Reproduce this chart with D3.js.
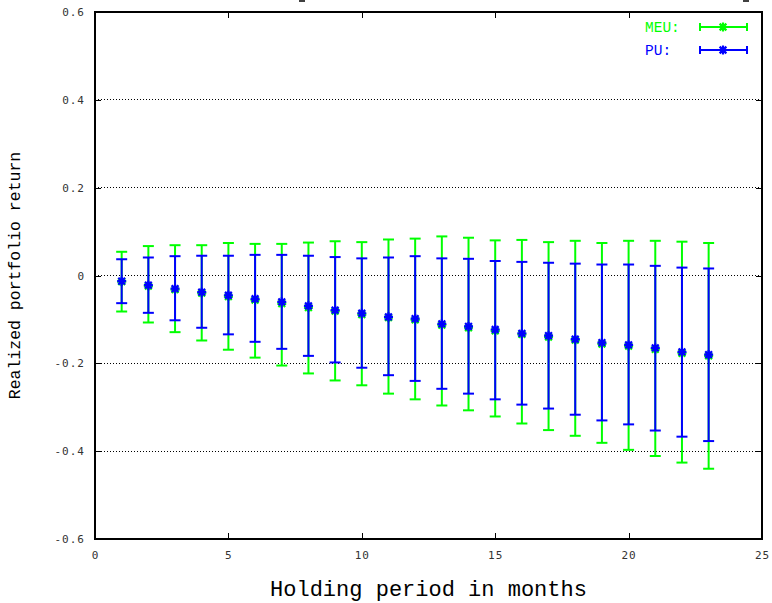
<!DOCTYPE html>
<html>
<head>
<meta charset="utf-8">
<script src="https://cdn.jsdelivr.net/npm/d3@7"></script>
<style>
  html, body { margin: 0; padding: 0; background: #fff; }
  svg { display: block; }
</style>
</head>
<body>
<div id="chart"></div>
<script>
// values
const months = [1, 2, 3, 4, 5, 6, 7, 8, 9, 10, 11, 12, 13, 14, 15, 16, 17, 18, 19, 20, 21, 22, 23]

const meuMean = [-0.014, -0.024, -0.032, -0.040, -0.048, -0.056, -0.064, -0.073, -0.081, -0.089, -0.096, -0.101,
  -0.113, -0.119, -0.126, -0.134, -0.140, -0.147, -0.156, -0.161, -0.168, -0.177, -0.183]
const meuLow = [-0.082, -0.107, -0.129, -0.148, -0.169, -0.187, -0.205, -0.223, -0.239, -0.250, -0.269, -0.282,
  -0.296, -0.307, -0.321, -0.337, -0.352, -0.365, -0.381, -0.397, -0.411, -0.426, -0.440]
const meuHigh = [0.054, 0.067, 0.069, 0.069, 0.074, 0.072, 0.072, 0.075, 0.078, 0.076, 0.082, 0.084,
  0.089, 0.086, 0.080, 0.081, 0.076, 0.079, 0.074, 0.079, 0.079, 0.077, 0.074]

const puMean = [-0.013, -0.022, -0.030, -0.038, -0.045, -0.053, -0.060, -0.069, -0.079, -0.086, -0.094, -0.098,
  -0.110, -0.116, -0.123, -0.132, -0.137, -0.145, -0.153, -0.158, -0.165, -0.174, -0.180]
const puLow = [-0.063, -0.085, -0.102, -0.119, -0.134, -0.151, -0.167, -0.183, -0.198, -0.210, -0.227, -0.240,
  -0.258, -0.269, -0.282, -0.294, -0.303, -0.317, -0.330, -0.339, -0.353, -0.367, -0.377]
const puHigh = [0.037, 0.041, 0.044, 0.045, 0.045, 0.047, 0.047, 0.045, 0.042, 0.039, 0.041, 0.044,
  0.039, 0.038, 0.033, 0.031, 0.029, 0.027, 0.025, 0.025, 0.022, 0.018, 0.016]

const xTicks = [0, 5, 10, 15, 20, 25]
const yTicks = [-0.6, -0.4, -0.2, 0, 0.2, 0.4, 0.6]
const seriesNames = ['MEU:', 'PU:']
const seriesColors = ['#00ff00', '#0000ff']

const width = 772, height = 603
const plotLeft = 95, plotRight = 762, plotTop = 12, plotBottom = 539

const svg = d3.select('#chart').append('svg')
  .attr('width', width)
  .attr('height', height)

const x = d3.scaleLinear().domain([0, 25]).range([plotLeft, plotRight])
const y = d3.scaleLinear().domain([-0.6, 0.6]).range([plotBottom, plotTop])

const tickFont = '"DejaVu Sans Mono", monospace'
const labelFont = '"Liberation Mono", "Courier New", monospace'

// grid, dotted, only horizontal
svg.append('g')
  .selectAll('line')
  .data(yTicks.filter(d => Math.abs(d) < 0.59))
  .join('line')
  .attr('x1', plotLeft).attr('x2', plotRight)
  .attr('y1', d => y(d)).attr('y2', d => y(d))
  .attr('stroke', '#000')
  .attr('stroke-width', 1)
  .attr('stroke-dasharray', '1,2')
  .attr('shape-rendering', 'crispEdges')

// axes with inward ticks on all four sides
const fmt = d => d === 0 ? '0' : d3.format('.1f')(d).replace('−', '-')
const yAxis = d3.axisLeft(y).tickValues(yTicks).tickSize(-6).tickPadding(10).tickFormat(fmt)
const yAxisR = d3.axisRight(y).tickValues(yTicks).tickSize(-6).tickFormat('')
const xAxis = d3.axisBottom(x).tickValues(xTicks).tickSize(-6).tickPadding(12)
const xAxisT = d3.axisTop(x).tickValues(xTicks).tickSize(-6).tickFormat('')

function styleAxis(g) {
  g.select('.domain').remove()
  g.selectAll('.tick line').attr('stroke', '#000').attr('shape-rendering', 'crispEdges')
  g.selectAll('.tick text')
    .attr('font-family', tickFont)
    .attr('font-size', 11)
    .attr('letter-spacing', 1)
    .attr('fill', '#333')
}

svg.append('g').attr('transform', `translate(${plotLeft},0)`).call(yAxis).call(styleAxis)
svg.append('g').attr('transform', `translate(${plotRight},0)`).call(yAxisR).call(styleAxis)
svg.append('g').attr('transform', `translate(0,${plotBottom})`).call(xAxis).call(styleAxis)
svg.append('g').attr('transform', `translate(0,${plotTop})`).call(xAxisT).call(styleAxis)

// border
svg.append('rect')
  .attr('x', plotLeft).attr('y', plotTop)
  .attr('width', plotRight - plotLeft).attr('height', plotBottom - plotTop)
  .attr('fill', 'none')
  .attr('stroke', '#000')
  .attr('stroke-width', 1.5)
  .attr('shape-rendering', 'crispEdges')

// remnants of the title cut off above the frame
svg.append('g')
  .selectAll('line')
  .data([302, 746])
  .join('line')
  .attr('x1', d => d - 3).attr('x2', d => d + 3)
  .attr('y1', 1).attr('y2', 1)
  .attr('stroke', '#000')
  .attr('stroke-width', 1.5)

// asterisk point (plus + cross)
function star(g, cx, cy, color, r) {
  const d = r * 0.75
  g.append('path')
    .attr('d', `M${cx - r},${cy}H${cx + r}M${cx},${cy - r}V${cy + r}` +
      `M${cx - d},${cy - d}L${cx + d},${cy + d}M${cx - d},${cy + d}L${cx + d},${cy - d}`)
    .attr('stroke', color)
    .attr('stroke-width', 2.2)
    .attr('fill', 'none')
}

const series = [
  { name: seriesNames[0], color: seriesColors[0], mean: meuMean, low: meuLow, high: meuHigh },
  { name: seriesNames[1], color: seriesColors[1], mean: puMean, low: puLow, high: puHigh }
]

const cap = 5.5
series.forEach(s => {
  const g = svg.append('g')
  months.forEach((m, i) => {
    const cx = x(m)
    g.append('line')
      .attr('x1', cx).attr('x2', cx)
      .attr('y1', y(s.low[i])).attr('y2', y(s.high[i]))
      .attr('stroke', s.color).attr('stroke-width', 2)
    ;[s.low[i], s.high[i]].forEach(v => {
      g.append('line')
        .attr('x1', cx - cap).attr('x2', cx + cap)
        .attr('y1', y(v)).attr('y2', y(v))
        .attr('stroke', s.color).attr('stroke-width', 2)
    })
    star(g, cx, y(s.mean[i]), s.color, 4.5)
  })
})

// legend
series.forEach((s, i) => {
  const ly = 27 + i * 23
  const g = svg.append('g')
  g.append('text')
    .attr('x', 645).attr('y', ly + 5)
    .attr('font-family', labelFont)
    .attr('font-size', 14.5)
    .attr('fill', s.color)
    .text(s.name)
  g.append('line')
    .attr('x1', 700).attr('x2', 747)
    .attr('y1', ly).attr('y2', ly)
    .attr('stroke', s.color).attr('stroke-width', 2)
  ;[700, 747].forEach(px => {
    g.append('line')
      .attr('x1', px).attr('x2', px)
      .attr('y1', ly - 4).attr('y2', ly + 4)
      .attr('stroke', s.color).attr('stroke-width', 2)
  })
  star(g, 723, ly, s.color, 4.5)
})

// axis titles
svg.append('text')
  .attr('x', (plotLeft + plotRight) / 2).attr('y', 596)
  .attr('text-anchor', 'middle')
  .attr('font-family', labelFont)
  .attr('font-size', 22)
  .attr('fill', '#000')
  .text('Holding period in months')

svg.append('text')
  .attr('transform', `translate(20,${(plotTop + plotBottom) / 2}) rotate(-90)`)
  .attr('text-anchor', 'middle')
  .attr('font-family', labelFont)
  .attr('font-size', 16.5)
  .attr('fill', '#000')
  .text('Realized portfolio return')
</script>
</body>
</html>
